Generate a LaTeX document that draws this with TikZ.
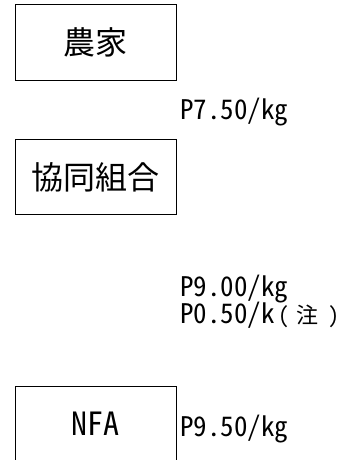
\documentclass[tikz,border=0pt]{standalone}
\usepackage{fontspec}
\usetikzlibrary{positioning}
\newfontfamily\jpfont{Noto Sans CJK JP}
\newfontfamily\monofont[RawFeature=+hwid]{Noto Sans CJK JP}
\tikzset{%
	stage/.style={
		draw,
		line width=1pt,
		minimum width=161pt,
		minimum height=75pt,
		inner sep=0pt
	},
	jpbig/.style={
		font=\jpfont\fontsize{32}{32}\selectfont
	},
	monobig/.style={
		font=\monofont\fontsize{32}{32}\selectfont
	},
	price/.style={
		anchor=base west,
		inner sep=0pt,
		font=\monofont\fontsize{27}{27}\selectfont
	},
	remark/.style={
		anchor=base west,
		inner sep=0pt,
		font=\jpfont\fontsize{22}{22}\selectfont
	},
}
\begin{document}
\begin{tikzpicture}[x=1pt,y=-1pt]
			\useasboundingbox (0,0) rectangle (339,460);
			
			\node[stage, jpbig] (farmer) at (95.5,42.5) {農家};
			\node[stage, jpbig] (coop) at (95.5,177) {協同組合};
			\node[stage, monobig] (nfa) at (95.5,423.5) {NFA};
			
			\node[price] (farmgate) at (180,119) {P7.50/kg};
			\node[price] (buying) at (180,296.5) {P9.00/kg};
			\node[price] (subsidy) at (180,323) {P0.50/k};
			% full-width brackets, centred in their cells
			\node[remark] (note) at (subsidy.base east)
				{\kern3pt{\monofont(}\kern7.5pt注\kern10pt{\monofont)}};
			\node[price] (nfaprice) at (180,436.5) {P9.50/kg};
		\end{tikzpicture}
\end{document}
